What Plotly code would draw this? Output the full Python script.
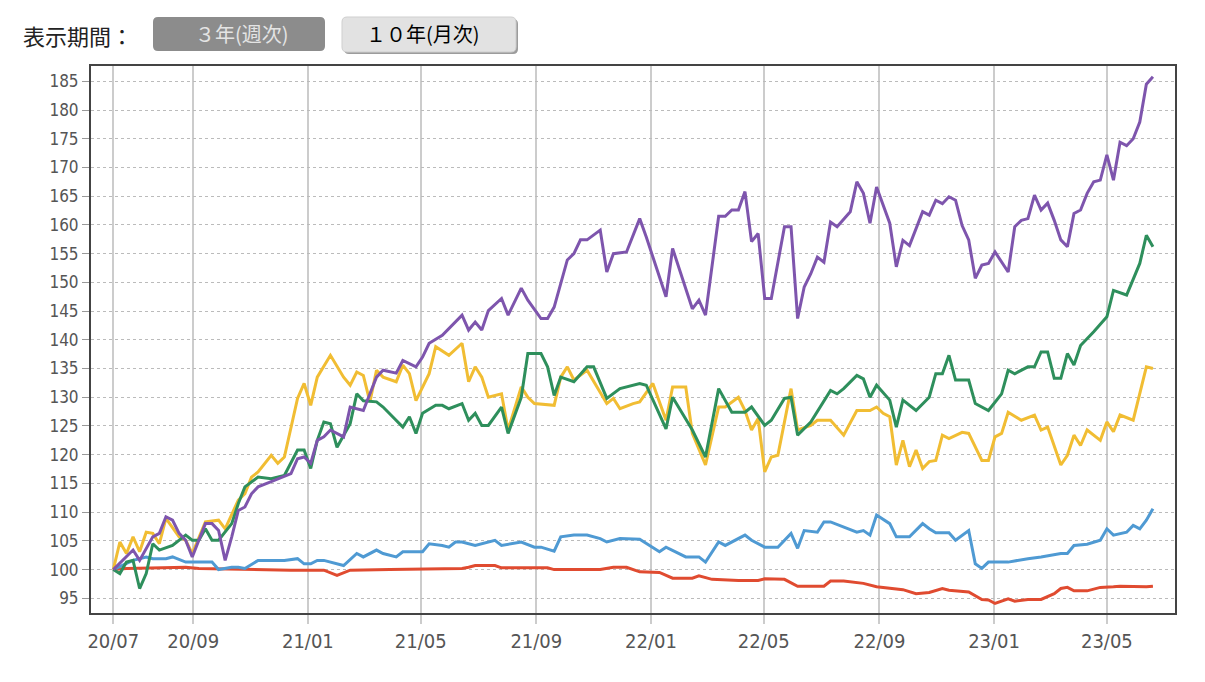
import pandas as pd
import plotly.graph_objects as go

# ---- data: weekly index (weeks since start) and fund index values ----
START = "2020-06-08"

purple_w = [0, 3, 4, 6, 7, 8, 9, 10, 11, 12, 13, 14, 15, 16, 17, 18, 19, 20, 21, 22, 24, 25, 27, 28, 29, 30,
            31, 32, 33, 35, 36, 38, 40, 41, 43, 44, 46, 47, 48, 50, 53, 54, 55, 56, 57, 59, 60, 62, 63, 65,
            66, 67, 69, 70, 71, 72, 74, 75, 76, 78, 80, 81, 84, 85, 88, 89, 90, 92, 93, 94, 95, 96, 97, 98,
            99, 100, 102, 103, 104, 105, 106, 107, 108, 109, 110, 112, 113, 114, 115, 116, 118, 119, 120,
            121, 123, 124, 125, 126, 127, 128, 129, 130, 131, 132, 133, 134, 136, 137, 138, 139, 140, 141,
            142, 143, 144, 145, 146, 147, 148, 149, 150, 151, 152, 153, 154, 155, 156, 157, 158]
purple_v = [100, 103.4, 101.6, 105.7, 106.3, 109.2, 108.6, 106.3, 105.1, 102.2, 105.1, 108, 108, 106.8,
            101.6, 105.7, 110.3, 110.9, 113.2, 114.4, 115.3, 115.8, 116.7, 119.3, 119.6, 118.5, 122.5,
            123.1, 124.3, 123.1, 128.3, 127.7, 133.5, 134.7, 134.2, 136.4, 135.3, 137, 139.4, 140.8, 144.3,
            141.7, 143.1, 141.7, 145.1, 147.2, 144.3, 149, 146.9, 143.7, 143.7, 145.7, 153.9, 155, 157.4,
            157.4, 159.1, 151.8, 155, 155.3, 161.1, 157.9, 147.5, 155.9, 145.4, 146.9, 144.3, 161.5, 161.5,
            162.6, 162.6, 165.8, 157.1, 158.5, 147.2, 147.2, 159.7, 159.7, 143.7, 149.2, 151.5, 154.4,
            153.5, 160.5, 159.7, 162.3, 167.5, 165.5, 160.3, 166.6, 160.3, 152.7, 157.3, 156.4, 162.3,
            161.7, 164.3, 163.7, 164.9, 164.3, 159.9, 157.4, 150.7, 153, 153.3, 155.3, 151.8, 159.7, 160.8,
            161.1, 165.2, 162.6, 163.8, 160.8, 157.4, 156.2, 162, 162.6, 165.5, 167.5, 167.8, 172.2, 167.8,
            174.4, 173.8, 175, 177.9, 184.5, 185.8]

green_w = [0, 1, 2, 3, 4, 5, 6, 7, 9, 11, 12, 13, 14, 15, 16, 18, 19, 20, 22, 24, 26, 28, 29, 30, 31, 32,
           33, 34, 36, 37, 38, 40, 41, 44, 45, 46, 47, 49, 50, 51, 53, 54, 55, 56, 57, 59, 60, 62, 63, 65,
           66, 67, 68, 70, 72, 73, 75, 76, 77, 80, 81, 84, 85, 88, 90, 92, 93, 94, 96, 97, 99, 100, 102,
           103, 104, 105, 106, 109, 110, 111, 113, 114, 115, 116, 118, 119, 120, 122, 124, 125, 126, 127,
           128, 130, 131, 133, 135, 136, 137, 139, 140, 141, 142, 143, 144, 145, 146, 147, 149, 151, 152,
           154, 156, 157, 158]
green_v = [100, 99.3, 101.3, 101.6, 96.7, 99.3, 104.5, 103.4, 104.2, 106, 105.1, 105.1, 107.1, 105.1,
           105.1, 108, 111.5, 114.4, 116.1, 115.8, 116.4, 120.8, 120.8, 117.6, 122.5, 125.7, 125.4, 121.3,
           125.4, 130.6, 129.4, 129.2, 128.3, 124.8, 126.6, 123.7, 127.2, 128.6, 128.6, 128, 128.9, 126,
           127.2, 125.1, 125.1, 128.3, 123.7, 130, 137.6, 137.6, 135.3, 130.3, 133.5, 132.7, 135.3, 135.3,
           129.8, 130.6, 131.5, 132.4, 132.1, 124.5, 130, 124.3, 119.6, 131.5, 129.4, 127.4, 127.4, 128.3,
           125.1, 126, 129.8, 130, 123.4, 124.5, 125.7, 131.2, 130.6, 131.5, 133.8, 133.2, 130, 132.1,
           129.5, 124.8, 129.5, 127.7, 130, 134.1, 134.1, 137.3, 133, 133, 128.9, 127.7, 130.6, 134.7,
           134.1, 135.3, 135.3, 137.9, 137.9, 133.3, 133.3, 137.6, 135.6, 139, 141.4, 144, 148.6, 147.8,
           153.3, 158.2, 156.2]

yellow_w = [0, 1, 2, 3, 4, 5, 6, 7, 8, 10, 11, 12, 14, 16, 17, 19, 20, 21, 22, 24, 25, 26, 28, 29, 30, 31,
            33, 35, 36, 37, 38, 39, 40, 41, 43, 44, 45, 46, 48, 49, 51, 53, 54, 55, 56, 57, 59, 60, 62, 63,
            64, 67, 68, 69, 70, 72, 75, 76, 77, 79, 80, 82, 84, 85, 87, 88, 90, 92, 93, 95, 96, 97, 98, 99,
            100, 101, 103, 104, 106, 107, 109, 111, 113, 115, 116, 117, 118, 119, 120, 121, 122, 123, 124,
            125, 126, 127, 129, 130, 132, 133, 134, 135, 136, 138, 140, 141, 142, 144, 145, 146, 147, 148,
            150, 151, 152, 153, 155, 157, 158]
yellow_v = [100, 104.8, 102.8, 105.7, 103.1, 106.5, 106.3, 104.5, 108.9, 105.7, 105.1, 102.8, 108.3, 108.6,
            107.1, 112.1, 113.2, 116.1, 117, 119.9, 118.5, 119.6, 129.8, 132.4, 128.6, 133.5, 137.3, 133.5,
            132.1, 134.4, 133.8, 129.2, 134.7, 133.5, 132.7, 135.6, 134.1, 129.4, 134.1, 138.8, 137.3, 139.4,
            132.7, 135.3, 133.5, 130, 130.6, 124.3, 131.8, 130, 128.9, 128.6, 133.5, 135.3, 133, 134.7,
            128.9, 129.8, 128, 128.9, 129.2, 132.4, 126, 131.8, 131.8, 123.7, 118.2, 128.3, 128.3, 130,
            127.7, 124.3, 126.3, 117, 119.6, 119.9, 131.5, 124.3, 125.1, 126, 126, 123.4, 127.7, 127.7,
            128.3, 127.2, 126.6, 118.2, 122.5, 117.9, 120.8, 117.6, 118.8, 119, 123.4, 122.8, 123.9, 123.7,
            119, 119, 123.1, 123.7, 127.4, 126, 126.9, 124.3, 124.8, 118.2, 119.9, 123.4, 121.6, 124.3,
            122.5, 125.7, 124, 126.9, 126, 135.3, 135]

blue_w = [0, 2, 3, 5, 6, 8, 9, 11, 15, 16, 18, 19, 20, 22, 26, 28, 29, 30, 31, 32, 33, 35, 37, 38, 40, 41,
          43, 44, 47, 48, 50, 51, 52, 53, 55, 57, 58, 59, 62, 64, 65, 67, 68, 70, 72, 74, 75, 77, 80, 83,
          84, 87, 89, 90, 92, 93, 96, 97, 99, 101, 103, 104, 105, 107, 108, 109, 111, 113, 114, 115, 116,
          118, 119, 121, 123, 124, 125, 127, 128, 130, 131, 132, 133, 136, 139, 141, 144, 145, 146, 148,
          150, 151, 152, 154, 155, 156, 157, 158]
blue_v = [100, 101, 101.6, 102.2, 101.9, 101.9, 102.2, 101.3, 101.3, 100, 100.4, 100.4, 100.2, 101.6,
          101.6, 101.9, 101, 101, 101.6, 101.6, 101.3, 100.7, 102.8, 102.2, 103.4, 102.8, 102.2, 103.1,
          103.1, 104.5, 104.2, 103.9, 104.8, 104.8, 104.2, 104.8, 105.1, 104.2, 104.8, 103.9, 103.9, 103.2,
          105.7, 106, 106, 105.4, 104.8, 105.4, 105.3, 103.1, 103.9, 102.2, 102.2, 101.3, 104.8, 104.2,
          106, 105.1, 103.9, 103.9, 106.3, 103.7, 106.8, 106.5, 108.3, 108.3, 107.4, 106.5, 106.8, 106,
          109.5, 108, 105.7, 105.7, 108, 107.1, 106.4, 106.4, 105.1, 106.8, 101, 100.2, 101.3, 101.3,
          101.9, 102.2, 102.8, 102.8, 104.2, 104.4, 105.1, 107.1, 106, 106.5, 107.7, 107.1, 108.6, 110.6]

red_w = [0, 2, 11, 13, 27, 32, 34, 36, 42, 53, 54, 55, 58, 59, 66, 67, 74, 76, 78, 80, 83, 85, 88, 89, 91,
         95, 98, 99, 102, 104, 108, 109, 111, 114, 116, 118, 120, 122, 124, 126, 127, 130, 132, 133, 134,
         136, 137, 139, 141, 143, 144, 145, 146, 148, 150, 152, 153, 157, 158]
red_v = [100, 100.2, 100.4, 100.2, 99.9, 99.9, 99, 99.9, 100, 100.2, 100.4, 100.7, 100.7, 100.3, 100.3,
         100, 100, 100.4, 100.4, 99.6, 99.5, 98.5, 98.5, 98.9, 98.3, 98.1, 98.1, 98.4, 98.3, 97.1, 97.1,
         98, 98, 97.6, 97, 96.7, 96.5, 95.8, 96, 96.7, 96.4, 96.1, 94.8, 94.7, 94.1, 94.9, 94.5, 94.8,
         94.8, 95.8, 96.7, 96.9, 96.3, 96.3, 96.9, 97, 97.1, 97, 97.1]

tick_dates = ["2020-06-08", "2020-09-01", "2021-01-01", "2021-05-01", "2021-09-01",
              "2022-01-01", "2022-05-01", "2022-09-01", "2023-01-01", "2023-05-01"]
tick_labels = ["20/07", "20/09", "21/01", "21/05", "21/09", "22/01", "22/05", "22/09", "23/01", "23/05"]
y_ticks = list(range(95, 186, 5))

series = [
    ("red", red_w, red_v, "#e04b30"),
    ("blue", blue_w, blue_v, "#4f9ad3"),
    ("yellow", yellow_w, yellow_v, "#f1bd33"),
    ("green", green_w, green_v, "#2e8f5c"),
    ("purple", purple_w, purple_v, "#7e55ad"),
]


def to_dates(weeks):
    return [pd.Timestamp(START) + pd.Timedelta(days=7 * w) for w in weeks]


fig = go.Figure()
for name, w, v, c in series:
    fig.add_trace(go.Scatter(x=to_dates(w), y=v, mode="lines", name=name,
                             line=dict(color=c, width=3), hoverinfo="skip"))

# ---- layout geometry (pixels) ----
W, H = 1205, 682
L, R, T, B = 91, 1175, 66, 613


def px(x):
    return (x - L) / (R - L)


def py(y):
    return (B - y) / (B - T)


def rrect(x0, y0, x1, y1, r):
    X0, X1 = px(x0), px(x1)
    Y0, Y1 = py(y0), py(y1)
    rx = r / (R - L)
    ry = r / (B - T)
    return (f"M{X0 + rx},{Y0} L{X1 - rx},{Y0} Q{X1},{Y0} {X1},{Y0 - ry} "
            f"L{X1},{Y1 + ry} Q{X1},{Y1} {X1 - rx},{Y1} L{X0 + rx},{Y1} "
            f"Q{X0},{Y1} {X0},{Y1 + ry} L{X0},{Y0 - ry} Q{X0},{Y0} {X0 + rx},{Y0} Z")


shapes = [
    dict(type="path", xref="paper", yref="paper", path=rrect(153, 17, 325, 51, 5),
         fillcolor="#8c8c8c", line=dict(width=0), layer="above"),
    dict(type="path", xref="paper", yref="paper", path=rrect(344, 19, 518, 54, 5),
         fillcolor="#9c9c9c", line=dict(width=0), layer="above"),
    dict(type="path", xref="paper", yref="paper", path=rrect(342, 17, 516, 52, 5),
         fillcolor="#e2e2e2", line=dict(width=1, color="#cfcfcf"), layer="above"),
]

CJK = "Noto Sans CJK JP"
annotations = [
    dict(text="表示期間：", x=px(21), y=py(35), xref="paper", yref="paper",
         xanchor="left", yanchor="middle", showarrow=False,
         font=dict(family=CJK, size=22, color="#222222")),
    dict(text="３年(週次)", x=px(242), y=py(34), xref="paper", yref="paper",
         xanchor="center", yanchor="middle", showarrow=False,
         font=dict(family=CJK, size=20, color="#e4e4e4")),
    dict(text="１０年(月次)", x=px(423), y=py(34), xref="paper", yref="paper",
         xanchor="center", yanchor="middle", showarrow=False,
         font=dict(family=CJK, size=20, color="#000000")),
]

TICKFONT = "DejaVu Sans Condensed, Liberation Sans Narrow, Arial Narrow, sans-serif"

x0 = pd.Timestamp(START) + pd.Timedelta(days=(L - 113.3) / 0.94)
x1 = pd.Timestamp(START) + pd.Timedelta(days=(R - 113.3) / 0.94)

fig.update_layout(
    width=W, height=H,
    margin=dict(l=L, r=W - R, t=T, b=H - B, pad=0),
    paper_bgcolor="white", plot_bgcolor="white",
    showlegend=False,
    shapes=shapes, annotations=annotations,
    xaxis=dict(type="date", range=[x0, x1], tickvals=tick_dates, ticktext=tick_labels,
               showgrid=True, gridcolor="#cccccc", gridwidth=1.5,
               ticks="outside", ticklen=9, tickcolor="#cccccc", tickwidth=1.5,
               showline=True, linecolor="#444444", linewidth=2, mirror=True,
               tickfont=dict(family=TICKFONT, size=20, color="#555555"),
               zeroline=False, fixedrange=True),
    yaxis=dict(range=[92.44, 187.67], tickvals=y_ticks,
               showgrid=True, gridcolor="#bbbbbb", gridwidth=1, griddash="dot",
               ticks="outside", ticklen=7, tickcolor="#999999", tickwidth=1,
               showline=True, linecolor="#444444", linewidth=2, mirror=True,
               tickfont=dict(family=TICKFONT, size=17, color="#555555"),
               zeroline=False, fixedrange=True),
)

fig.write_html("out.html", config={"displayModeBar": False})
